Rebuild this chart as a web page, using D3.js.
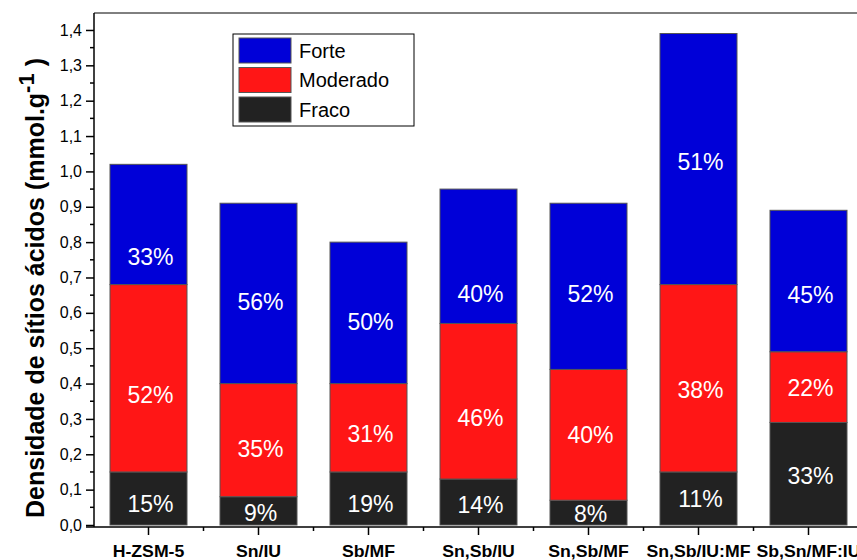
<!DOCTYPE html>
<html><head><meta charset="utf-8">
<script src="https://cdn.jsdelivr.net/npm/d3@7/dist/d3.min.js"></script>
<style>body{margin:0;background:#fff}svg{display:block}</style>
</head><body>
<svg id="c" width="857" height="560"></svg>
<script>
const categories = ["H-ZSM-5","Sn/IU","Sb/MF","Sn,Sb/IU","Sn,Sb/MF","Sn,Sb/IU:MF","Sb,Sn/MF:IU"];
const fraco    = [0.15,0.08,0.15,0.13,0.07,0.15,0.29];
const moderado = [0.53,0.32,0.25,0.44,0.37,0.53,0.20];
const forte    = [0.34,0.51,0.40,0.38,0.47,0.71,0.40];
const fracoPct    = [15,9,19,14,8,11,33];
const moderadoPct = [52,35,31,46,40,38,22];
const fortePct    = [33,56,50,40,52,51,45];
// value (mmol/g) at which each percentage annotation sits, as placed in the original
const fracoLabelAt    = [0.061,0.035,0.059,0.057,0.033,0.073,0.139];
const moderadoLabelAt = [0.368,0.217,0.259,0.302,0.255,0.382,0.387];
const forteLabelAt    = [0.759,0.632,0.575,0.655,0.655,1.027,0.650];
const yTicks = [0,0.1,0.2,0.3,0.4,0.5,0.6,0.7,0.8,0.9,1.0,1.1,1.2,1.3,1.4];
const yMinorTicks = [0.05,0.15,0.25,0.35,0.45,0.55,0.65,0.75,0.85,0.95,1.05,1.15,1.25,1.35];
const seriesNames = ["Fraco","Moderado","Forte"];
const seriesColors = ["#222222","#ff1616","#0000d8"];

const svg = d3.select("#c");
const L = 94, T = 13, B = 525;
const x = d3.scaleBand().domain(categories).range([93.5, 863.5]).paddingInner(0.3).paddingOuter(0.15);
const y = d3.scaleLinear().domain([0, 1.448]).range([B, T]);

const pctBy = {Fraco:fracoPct, Moderado:moderadoPct, Forte:fortePct};
const labBy = {Fraco:fracoLabelAt, Moderado:moderadoLabelAt, Forte:forteLabelAt};
const table = categories.map((c,i)=>({cat:c, idx:i, Fraco:fraco[i], Moderado:moderado[i], Forte:forte[i]}));
const stack = d3.stack().keys(seriesNames)(table);

const g = svg.append("g");
stack.forEach((s,si)=>{
  g.selectAll(null).data(s).enter().append("rect")
    .attr("x", d=>x(d.data.cat)).attr("width", x.bandwidth())
    .attr("y", d=>y(d[1])).attr("height", d=>y(d[0])-y(d[1]))
    .attr("fill", seriesColors[si]).attr("stroke","#555").attr("stroke-width",1);
});
stack.forEach((s,si)=>{
  const key = seriesNames[si];
  g.selectAll(null).data(s).enter().append("text")
    .attr("x", d=>x(d.data.cat)+x.bandwidth()/2+2)
    .attr("y", d=>y(labBy[key][d.data.idx]))
    .attr("dy","0.36em").attr("text-anchor","middle")
    .attr("fill","#fff").attr("font-family","Arial, 'Liberation Sans', sans-serif").attr("font-size",23)
    .text(d=>pctBy[key][d.data.idx]+"%");
});

// frame (top line)
svg.append("line").attr("x1",L).attr("x2",857).attr("y1",T).attr("y2",T).attr("stroke","#000").attr("stroke-width",1);

// y axis
const fmt = d=>d3.format(".1f")(d).replace(".",",");
const yAxis = d3.axisLeft(y).tickValues(yTicks).tickFormat(fmt).tickSize(8).tickPadding(4);
const ya = svg.append("g").attr("transform",`translate(${L},0)`).call(yAxis);
ya.select(".domain").attr("d",`M0,${T}V${B+2}`).attr("stroke-width",1.5);
ya.selectAll(".tick line").attr("stroke-width",1.5);
ya.selectAll("text").attr("font-family","Arial, 'Liberation Sans', sans-serif").attr("font-size",16).attr("fill","#000");
ya.selectAll(".minor").data(yMinorTicks).enter().append("line").attr("class","minor")
  .attr("x1",0).attr("x2",-4).attr("y1",d=>y(d)).attr("y2",d=>y(d)).attr("stroke","#000").attr("stroke-width",1.5);

// x axis
const xa = svg.append("g").attr("transform",`translate(0,${B+2})`);
xa.append("line").attr("x1",L-8).attr("x2",857).attr("y1",0).attr("y2",0).attr("stroke","#000").attr("stroke-width",1.5);
xa.selectAll(".maj").data(categories).enter().append("line")
  .attr("x1",d=>x(d)+x.bandwidth()/2).attr("x2",d=>x(d)+x.bandwidth()/2)
  .attr("y1",0).attr("y2",8).attr("stroke","#000").attr("stroke-width",1.5);
xa.selectAll(".mnr").data(categories.slice(1)).enter().append("line")
  .attr("x1",d=>x(d)-x.step()*x.paddingInner()/2).attr("x2",d=>x(d)-x.step()*x.paddingInner()/2)
  .attr("y1",0).attr("y2",4).attr("stroke","#000").attr("stroke-width",1.5);
const lbls = xa.selectAll(".lbl").data(categories).enter().append("text")
  .attr("x",d=>x(d)+x.bandwidth()/2).attr("y",30).attr("text-anchor","middle")
  .attr("font-family","Arial, 'Liberation Sans', sans-serif").attr("font-weight","bold").attr("font-size",16.5)
  .text(d=>d);
lbls.each(function(){
  const w = this.getComputedTextLength();
  d3.select(this).attr("textLength", w*1.07).attr("lengthAdjust","spacingAndGlyphs");
});

// y title
const yt = svg.append("text").attr("transform","translate(44,288) rotate(-90)").attr("text-anchor","middle")
  .attr("font-family","Arial, 'Liberation Sans', sans-serif").attr("font-weight","bold").attr("font-size",25);
yt.append("tspan").text("Densidade de sítios ácidos (mmol.g");
yt.append("tspan").attr("dy",-10).attr("font-size",22).text("-1");
yt.append("tspan").attr("dy",10).text(" )");

// legend
const lg = svg.append("g").attr("transform","translate(233,34)");
lg.append("rect").attr("width",181).attr("height",92).attr("fill","#fff").attr("stroke","#000").attr("stroke-width",1);
const legendOrder = ["Forte","Moderado","Fraco"];
legendOrder.forEach((n,i)=>{
  const col = seriesColors[seriesNames.indexOf(n)];
  lg.append("rect").attr("x",6).attr("y",4+i*29.5).attr("width",52).attr("height",25).attr("fill",col).attr("stroke","#555");
  lg.append("text").attr("x",66).attr("y",16.5+i*29.5).attr("dy","0.36em")
    .attr("font-family","Arial, 'Liberation Sans', sans-serif").attr("font-size",20).text(n);
});
</script>
</body></html>
